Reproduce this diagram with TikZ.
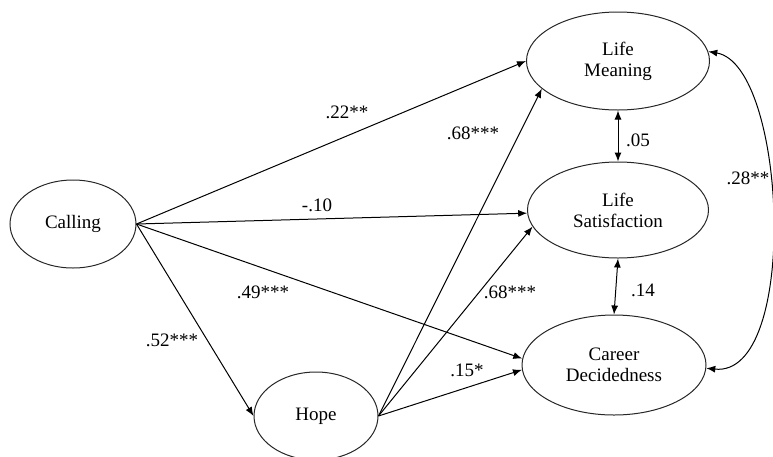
\documentclass[tikz,border=0pt]{standalone}
\usepackage{fontspec}
\setmainfont{LiberationSerif}[Extension=.ttf, UprightFont=*-Regular,
  BoldFont=*-Bold, ItalicFont=*-Italic]
\usetikzlibrary{arrows.meta,shapes.geometric}

\begin{document}
\begin{tikzpicture}[
      x=1pt, y=-1pt,
      font=\rmfamily\fontsize{19}{21}\selectfont,
      >={Latex[length=9pt,width=7pt]},
      latent/.style={ellipse, draw=black!85, line width=1pt, align=center,
                  inner sep=0pt},
      regline/.style={->, line width=1pt},
      covline/.style={<->, line width=1pt},
      coef/.style={inner sep=1pt},
    ]

    \useasboundingbox (0,0) rectangle (773,456);

    % ---------- variables ----------
    \node[latent, minimum width=126pt, minimum height=88pt]  (calling) at (73,224)  {Calling};
    \node[latent, minimum width=124pt, minimum height=88pt]  (hope)    at (316,416) {Hope};
    \node[latent, minimum width=183pt, minimum height=98pt]  (meaning) at (618,61)  {Life\\Meaning};
    \node[latent, minimum width=181pt, minimum height=96pt]  (satis)   at (618,210) {Life\\Satisfaction};
    \node[latent, minimum width=184pt, minimum height=100pt] (career)  at (614,365) {Career\\Decidedness};

    % ---------- Calling ----------
    \draw[regline] (calling.east) -- (meaning.west);
    \draw[regline] (calling.east) -- (satis.182);
    \draw[regline] (calling.east) -- (career.176);
    \draw[regline] (calling.east) -- (hope.west);

    % ---------- Hope ----------
    \draw[regline] (hope.east) -- (meaning.200);
    \draw[regline] (hope.east) -- (satis.191);
    \draw[regline] (hope.east) -- (career.183);

    % ---------- covarianzas ----------
    \draw[covline] (meaning.south) -- (satis.north);
    \draw[covline] (satis.south) -- (career.north);
    \draw[covline] (meaning.6) .. controls (787,65) and (800,378) .. (career.-2);

    % ---------- coeficientes ----------
    \node[coef] (c22) at (347,112) {.22**};
    \node[coef] (c10) at (317,205) {-.10};
    \node[coef] (c49) at (263,292) {.49***};
    \node[coef] (c52) at (172,340) {.52***};
    \node[coef] (c68a) at (473,133) {.68***};
    \node[coef] (c68b) at (510,292) {.68***};
    \node[coef] (c15) at (467,370) {.15*};
    \node[coef] (c05) at (638,140) {.05};
    \node[coef] (c14) at (643,290) {.14};
    \node[coef] (c28) at (748,178) {.28**};

  \end{tikzpicture}
\end{document}
